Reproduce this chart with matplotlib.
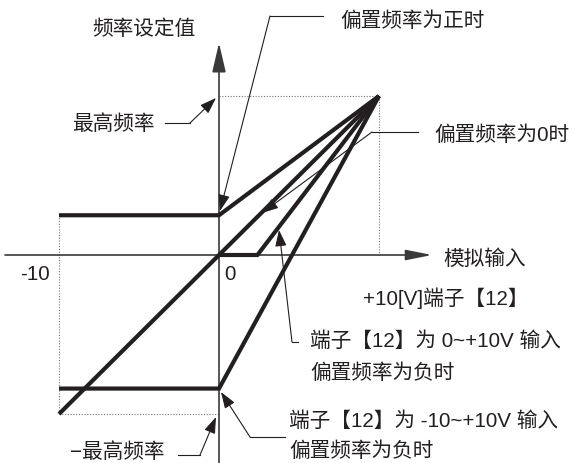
import matplotlib
matplotlib.use('Agg')
import matplotlib.pyplot as plt

plt.rcParams['font.family'] = ['Liberation Sans', 'Noto Sans CJK SC']

# ---------------- data ----------------
v_min, v_max = -10, 10          # analog input range [V]
f_max = 100                     # maximum frequency [%]

bias_pos_x = [-10, 0, 10]
bias_pos_y = [25, 25, 100]       # positive bias

bias_zero_x = [-10, 0, 10]
bias_zero_y = [-100, 0, 100]     # zero bias

neg_uni_x = [0, 2.4, 10]
neg_uni_y = [0, 0, 100]          # 0~+10V input, negative bias

neg_bi_x = [-10, 0, 10]
neg_bi_y = [-84, -84, 100]       # -10~+10V input, negative bias

tick_values = [-10, 0]
tick_labels = ["-10", "0"]

# ---------------- layout helpers (pixel -> data) ----------------
X0, Y0, SX, SY = 219, 256, 16.0, 1.59
def px(x):
    return (x - X0) / SX
def py(y):
    return (Y0 - y) / SY
def P(x, y):
    return (px(x), py(y))

fig = plt.figure(figsize=(5.8, 4.64), dpi=100)
ax = fig.add_axes([0, 0, 1, 1])
ax.set_xlim(px(0), px(580))
ax.set_ylim(py(464), py(0))
ax.axis('off')

ink = '#231f20'
axc = '#3a3a3a'

# axes with arrows
ax.annotate('', xy=(0, py(44)), xytext=(0, py(470)),
            arrowprops=dict(arrowstyle='-|>,head_length=1.8,head_width=0.42',
                            mutation_scale=10, lw=1.2, color=axc,
                            shrinkA=0, shrinkB=0))
ax.annotate('', xy=(px(432), 0), xytext=(px(5), 0),
            arrowprops=dict(arrowstyle='-|>,head_length=1.6,head_width=0.32',
                            mutation_scale=10, lw=1.2, color=axc,
                            shrinkA=0, shrinkB=0))

# dotted guides
dot = dict(color='#777777', lw=0.8, linestyle=(0, (1, 1.5)))
ax.plot([v_min, v_min], [bias_pos_y[0], -f_max], **dot)
ax.plot([v_min, 0], [-f_max, -f_max], **dot)
ax.plot([0, v_max], [f_max, f_max], **dot)
ax.plot([v_max, v_max], [f_max, 0], **dot)

# characteristic lines
thick = dict(color=ink, lw=3.0, solid_capstyle='butt', solid_joinstyle='miter', zorder=5)
ax.plot(bias_pos_x, bias_pos_y, **thick)
ax.plot(bias_zero_x, bias_zero_y, **thick)
ax.plot(neg_uni_x, neg_uni_y, **thick)
ax.plot(neg_bi_x, neg_bi_y, **thick)

# tick labels
fs = 14.9
ax.text(px(20), py(275), tick_labels[0], fontsize=fs, ha='left', va='center', color=ink)
ax.text(px(224), py(275), tick_labels[1], fontsize=fs, ha='left', va='center', color=ink)

# texts
def t(x, y, s):
    ax.text(px(x), py(y), s, fontsize=fs, ha='left', va='center', color=ink)

t(92, 29, '频率设定值')
t(72, 124, '最高频率')
t(340, 21, '偏置频率为正时')
t(434, 135, '偏置频率为0时')
t(443, 259, '模拟输入')
t(363, 298, '+10[V]端子【12】')
t(310, 341, '端子【12】为 0~+10V 输入')
t(310, 373, '偏置频率为负时')
t(289, 421, '端子【12】为 -10~+10V 输入')
t(289, 451, '偏置频率为负时')
t(70, 452, '−最高频率')

# leader lines with arrows
def leader(p_start, p_corner, p_tip):
    ax.plot([p_start[0], p_corner[0]], [p_start[1], p_corner[1]], color=ink, lw=0.8, zorder=6)
    ax.annotate('', xy=p_tip, xytext=p_corner,
                arrowprops=dict(arrowstyle='-|>,head_length=1.0,head_width=0.35',
                                mutation_scale=10, lw=0.8, color=ink,
                                shrinkA=0, shrinkB=0), zorder=6)

leader(P(323, 17), P(270, 17), P(220, 212))
leader(P(165, 124), P(190, 124), P(216, 99))
leader(P(418, 133), P(372, 133), P(262, 214))
leader(P(298, 343), P(292, 343), P(279, 231))
leader(P(285, 438), P(250, 438), P(221, 393))
leader(P(178, 456), P(200, 456), P(216, 418))

fig.savefig('out.png', dpi=100)
